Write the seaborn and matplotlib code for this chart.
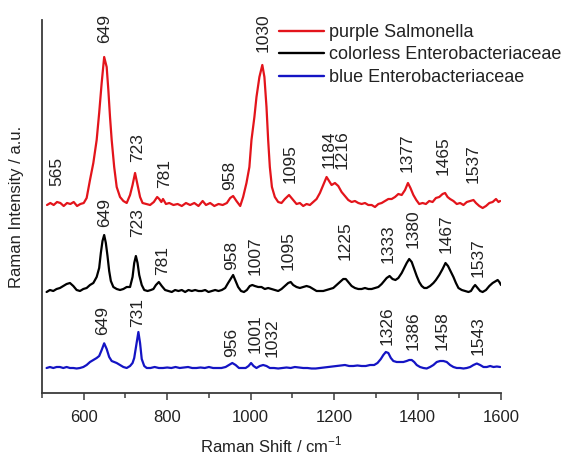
import matplotlib
matplotlib.use("Agg")
import matplotlib.pyplot as plt
import seaborn as sns
import pandas as pd
from matplotlib.ticker import MultipleLocator
from matplotlib.lines import Line2D

# ---------------- data ----------------
red_x = [512, 520, 528, 536, 544, 552, 560, 568, 576, 584, 592, 600, 607, 615, 623, 631, 637, 643, 649,
         655, 659, 663, 667, 673, 679, 687, 695, 703, 711, 717, 723, 729, 735, 741, 750, 759, 768, 776,
         781, 786, 790, 797, 805, 815, 825, 835, 845, 855, 865, 875, 885, 893, 903, 913, 923, 933, 943,
         951, 958, 966, 975, 982, 990, 997, 1002, 1009, 1014, 1021, 1028, 1033, 1038, 1042, 1046, 1051,
         1058, 1066, 1074, 1082, 1092, 1100, 1110, 1118, 1126, 1134, 1142, 1150, 1158, 1166, 1174, 1182,
         1188, 1194, 1202, 1210, 1218, 1226, 1234, 1242, 1250, 1258, 1266, 1274, 1282, 1290, 1298, 1306,
         1314, 1322, 1330, 1338, 1346, 1354, 1362, 1370, 1377, 1383, 1390, 1397, 1404, 1412, 1420, 1428,
         1436, 1444, 1452, 1460, 1466, 1472, 1478, 1486, 1494, 1502, 1510, 1518, 1526, 1534, 1540, 1548,
         1556, 1564, 1572, 1580, 1588, 1594, 1598]
red_y = [188, 190, 188, 191, 190, 187, 190, 189, 191, 187, 189, 190, 195, 213, 230, 253, 280, 310, 336,
         326, 303, 276, 253, 226, 206, 196, 192, 190, 198, 208, 220, 208, 196, 190, 189, 188, 191, 196,
         194, 191, 194, 189, 190, 188, 189, 187, 190, 188, 190, 187, 192, 188, 190, 187, 189, 188, 190,
         195, 197, 192, 187, 196, 210, 226, 253, 276, 296, 316, 328, 316, 286, 253, 226, 206,
         196, 191, 190, 194, 198, 194, 189, 190, 187, 189, 188, 191, 194, 200, 208, 216,
         212, 208, 210, 207, 201, 197, 193, 191, 192, 190, 189, 190, 188, 188, 186, 189,
         190, 192, 194, 194, 196, 199, 198, 203, 210, 205, 198, 193, 189, 190, 189, 192,
         191, 195, 196, 199, 200, 196, 194, 192, 189, 190, 188, 191, 192, 193, 190, 187,
         185, 187, 190, 191, 194, 191, 192]

black_x = [511, 519, 527, 535, 543, 551, 559, 567, 575, 583, 591, 599, 607, 615, 623, 631, 637, 641, 645,
           649, 653, 657, 661, 665, 671, 679, 687, 695, 703, 711, 717, 721, 725, 729, 733, 739, 745, 753,
           761, 767, 773, 780, 787, 795, 803, 811, 819, 827, 835, 843, 851, 859, 867, 875, 883, 891, 899,
           907, 915, 923, 931, 939, 946, 952, 958, 964, 970, 977, 984, 991, 998, 1004, 1010, 1018, 1026,
           1034, 1042, 1050, 1058, 1066, 1074, 1082, 1090, 1096, 1102, 1110, 1118, 1126, 1134, 1142, 1150,
           1158, 1166, 1174, 1182, 1190, 1198, 1206, 1214, 1222, 1228, 1234, 1242, 1250, 1258, 1266, 1274,
           1282, 1290, 1298, 1306, 1314, 1320, 1326, 1333, 1340, 1347, 1354, 1362, 1368, 1374, 1380, 1386,
           1392, 1398, 1404, 1410, 1416, 1422, 1430, 1438, 1444, 1452, 1460, 1467, 1473, 1480, 1486, 1492,
           1498, 1506, 1514, 1522, 1528, 1534, 1538, 1544, 1550, 1556, 1564, 1572, 1580, 1588, 1592, 1596,
           1600]
black_y = [101, 103, 102, 104, 105, 107, 109, 110, 107, 103, 102, 104, 105, 108, 110, 116, 125, 140, 152,
           158, 150, 137, 122, 112, 106, 104, 103, 104, 106, 106, 116, 130, 137, 130, 118, 108, 103, 102,
           103, 104, 108, 111, 107, 103, 102, 101, 103, 102, 103, 101, 103, 102, 103, 102, 102, 103, 101,
           102, 103, 102, 103, 105, 110, 114, 118, 112, 106, 102, 101, 103, 107, 108, 107, 106, 106,
           104, 105, 104, 103, 102, 104, 107, 110, 111, 108, 106, 105, 106, 107, 106, 104,
           102, 102, 102, 103, 104, 105, 108, 111, 114, 114, 111, 107, 105, 104, 104, 105,
           104, 104, 105, 106, 109, 112, 115, 117, 114, 113, 115, 120, 125, 130, 134, 131,
           124, 117, 111, 107, 105, 105, 107, 110, 113, 118, 124, 130, 127, 121, 116, 110,
           105, 103, 102, 101, 102, 106, 108, 105, 102, 101, 103, 107, 110, 112, 113, 111,
           108]

blue_x = [511, 519, 527, 535, 543, 551, 559, 567, 575, 583, 591, 599, 607, 615, 623, 631, 637, 643, 649,
          655, 661, 667, 673, 679, 687, 695, 703, 711, 717, 721, 726, 731, 735, 739, 745, 751, 760, 770,
          780, 790, 800, 810, 820, 830, 840, 850, 860, 870, 880, 890, 900, 910, 920, 930, 940, 948, 956,
          964, 972, 980, 988, 995, 1001, 1007, 1014, 1022, 1030, 1038, 1046, 1056, 1066, 1076, 1086, 1096,
          1106, 1116, 1126, 1136, 1146, 1156, 1166, 1176, 1186, 1196, 1206, 1216, 1226, 1236, 1246, 1256,
          1266, 1276, 1286, 1296, 1304, 1312, 1318, 1324, 1330, 1336, 1342, 1350, 1358, 1366, 1374, 1380,
          1386, 1392, 1398, 1406, 1414, 1422, 1430, 1438, 1446, 1454, 1462, 1470, 1478, 1486, 1494, 1502,
          1510, 1518, 1526, 1534, 1542, 1550, 1558, 1566, 1574, 1582, 1590, 1598]
blue_y = [25, 26, 25, 26, 26, 25, 26, 25, 25, 24.5, 25, 26, 28, 31, 33, 35, 37, 43, 49.7,
          44, 36, 32, 31, 30, 28, 26, 25, 27, 30, 35, 48, 61, 50, 34, 27, 25, 25, 26,
          25, 25, 25.5, 25, 26, 25, 25.5, 26, 25, 25, 25.5, 25, 26, 25, 25, 25, 26, 28, 30,
          28, 25, 25, 25, 27, 30, 27, 25, 27, 28, 27, 25, 25, 24.5, 25, 25.5, 25,
          26, 25.5, 25, 25, 24.5, 24.5, 25, 25.5, 26, 26.5, 27, 27.5, 28, 27, 27, 27.5,
          27, 27, 28, 28, 30, 34, 38, 41, 40, 35, 32, 31, 31, 31, 32, 33,
          33, 31, 28, 26, 25, 24.5, 26, 28, 31, 32, 32, 31, 28, 26, 25, 25,
          24.5, 25, 26, 28, 29.5, 28, 26, 26, 27, 26, 26.5, 26]

series_names = ["purple Salmonella", "colorless Enterobacteriaceae", "blue Enterobacteriaceae"]
series_colors = ["#e3141b", "#000000", "#1414c4"]

# peak labels: text, x position, bottom of label
red_lbl = ["565", "649", "723", "781", "958", "1030", "1095", "1184\n1216", "1377", "1465", "1537"]
red_lx = [536, 651, 730, 795, 950, 1030, 1094, 1204, 1375, 1461, 1533]
red_ly = [207, 350, 231, 205, 203, 341, 210, 224, 221, 218, 210]

black_lbl = ["649", "723", "781", "958", "1007", "1095", "1225", "1333", "1380", "1467", "1537"]
black_lx = [651, 728, 788, 955, 1010, 1090, 1226, 1329, 1389, 1468, 1545]
black_ly = [166, 156, 118, 123, 118, 123, 133, 130, 145, 140, 116]

blue_lbl = ["649", "731", "956", "1001", "1032", "1326", "1386", "1458", "1543"]
blue_lx = [646, 730, 955, 1010, 1051, 1327, 1389, 1459, 1545]
blue_ly = [58, 66, 36, 40, 36, 48, 43, 43, 38]

# ---------------- figure ----------------
sns.set_theme(style="ticks")
plt.rcParams["font.family"] = ["Liberation Sans", "DejaVu Sans"]
plt.rcParams["mathtext.fontset"] = "custom"
plt.rcParams["mathtext.rm"] = "Liberation Sans"

df = pd.concat([
    pd.DataFrame({"x": red_x, "y": red_y, "s": series_names[0]}),
    pd.DataFrame({"x": black_x, "y": black_y, "s": series_names[1]}),
    pd.DataFrame({"x": blue_x, "y": blue_y, "s": series_names[2]}),
], ignore_index=True)

fig = plt.figure(figsize=(5.69, 4.57), dpi=100)
ax = fig.add_axes([42 / 569, 1 - 393 / 457, 459 / 569, 373 / 457])

sns.lineplot(data=df, x="x", y="y", hue="s", palette=dict(zip(series_names, series_colors)),
             sort=False, estimator=None, linewidth=1.6, legend=False, ax=ax)

ax.set_xlim(500, 1600)
ax.set_ylim(0, 373)
ax.xaxis.set_major_locator(MultipleLocator(200))
ax.xaxis.set_minor_locator(MultipleLocator(100))
ax.set_yticks([])
for side in ["top", "right"]:
    ax.spines[side].set_visible(False)
for side in ["left", "bottom"]:
    ax.spines[side].set_color("#3a3a3a")
    ax.spines[side].set_linewidth(1.3)
ax.tick_params(axis="x", which="major", direction="out", length=5, width=1.1, color="#3a3a3a",
               labelsize=12, pad=7, labelcolor="#222222")
ax.tick_params(axis="x", which="minor", direction="out", length=3.5, width=1.1, color="#3a3a3a")

ax.set_xlabel("Raman Shift / cm$^{\\mathregular{-1}}$", fontsize=12, labelpad=7, color="#222222")
ax.set_ylabel("Raman Intensity / a.u.", fontsize=12, labelpad=13, color="#222222")

for lbls, lx, ly in [(red_lbl, red_lx, red_ly), (black_lbl, black_lx, black_ly), (blue_lbl, blue_lx, blue_ly)]:
    for t, xx, yy in zip(lbls, lx, ly):
        ax.text(xx, yy, t, rotation=90, ha="center", va="bottom", fontsize=12.5,
                color="#222222", linespacing=0.85)

handles = [Line2D([], [], color=c, lw=1.7) for c in series_colors]
leg = fig.legend(handles, series_names, loc="upper left", bbox_to_anchor=(279 / 569, 1 - 24 / 457),
                 frameon=False, fontsize=13, handlelength=2.5, handletextpad=0.28,
                 labelspacing=0.3, borderpad=0, borderaxespad=0)
for t in leg.get_texts():
    t.set_color("#222222")

fig.savefig("out.png", dpi=100)
